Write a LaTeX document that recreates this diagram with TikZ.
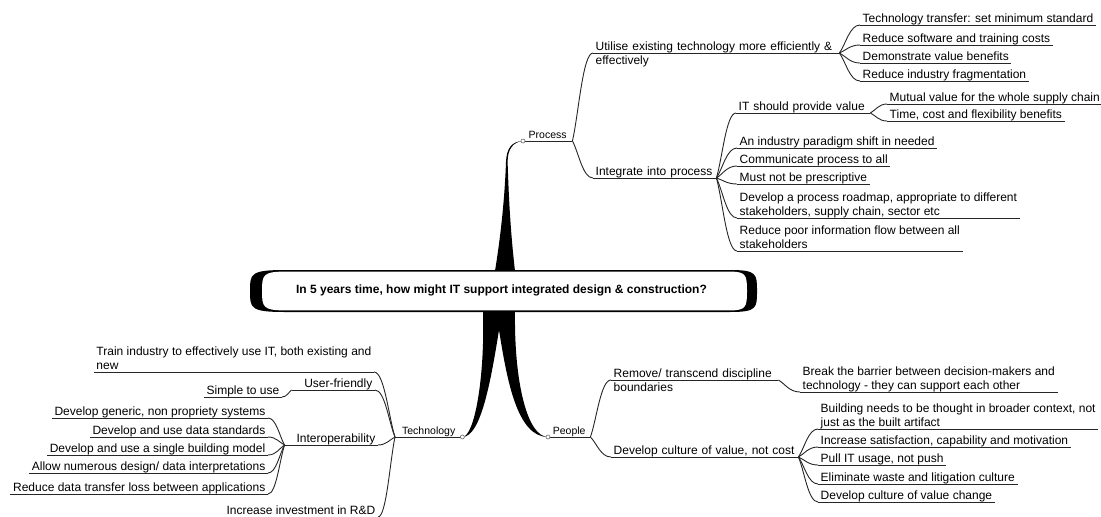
\documentclass[tikz,border=0pt]{standalone}
\usepackage{fontspec}
\setmainfont{Liberation Sans}
\usetikzlibrary{calc}
\newcommand\fsn{\fontsize{12}{14}\selectfont}
\newcommand\fss{\fontsize{10.5}{12}\selectfont}
\begin{document}
\begin{tikzpicture}[x=1pt,y=-1pt,
  ln/.style={draw=black!85, line width=0.9pt},
  ul/.style={append after command={(\tikzlastnode.south west) edge[ln] (\tikzlastnode.south east)}},
  ritem/.style={anchor=south west, align=left, inner xsep=2.5pt, inner ysep=2pt, text depth=0pt, font=\fsn, ul},
  litem/.style={anchor=south east, align=right, inner xsep=2.5pt, inner ysep=2pt, text depth=0pt, font=\fsn, ul},
  topic/.style={anchor=south west, inner xsep=0pt, inner ysep=2pt, text depth=0pt, font=\fss, ul},
  dot/.style={circle, draw=black!60, fill=white, inner sep=0pt, minimum size=4pt, line width=0.6pt},
  br/.style={ln, to path={let \p1=(\tikztostart), \p2=(\tikztotarget) in .. controls ({\x1+0.3*(\x2-\x1)},{\y1+0.3*(\y2-\y1)}) and ({\x2-0.5*(\x2-\x1)},\y2) .. (\tikztotarget)}}
]
\useasboundingbox (0,0) rectangle (1101,517);

% ---- main topics
\node[topic, minimum width=49pt] (process) at (523,141) {Process};
\node[topic, minimum width=67pt] (technology) at (395,437) {Technology};
\node[topic, minimum width=42pt] (people) at (548,437) {People};

% ---- trunks
\fill[black] (495,271) .. controls (502,228) and (505,190) .. (506,162)
  .. controls (506.5,148) and (512,141.3) .. (process.south west)
  .. controls (513,142) and (507.6,149) .. (507.6,162)
  .. controls (508.5,190) and (510,228) .. (515,271) -- cycle;
\fill[black] (483,311) .. controls (485,380) and (474,437) .. (technology.south east)
  .. controls (481,437) and (491,380) .. (499,330)
  .. controls (507,380) and (517,437) .. (people.south west)
  .. controls (528,437) and (514,385) .. (515,311) -- cycle;

% ---- central box
\fill[black] (285,270) -- (730,270) .. controls (757,270) and (757,274) .. (757,291)
  .. controls (757,308) and (757,312) .. (730,312) -- (285,312)
  .. controls (250,312) and (250,308) .. (250,291) .. controls (250,274) and (250,270) .. (285,270) -- cycle;
\fill[white] (285,271.6) -- (730,271.6) .. controls (746,271.6) and (747,275) .. (747,291)
  .. controls (747,307) and (746,310.4) .. (730,310.4) -- (285,310.4)
  .. controls (263,310.4) and (262,307) .. (262,291) .. controls (262,275) and (263,271.6) .. (285,271.6) -- cycle;
\node[anchor=base, font=\fsn\bfseries] (center) at (501.5,293) {In 5 years time, how might IT support integrated design \& construction?};

\node[dot] at (process.south west) {};
\node[dot] at (technology.south east) {};
\node[dot] at (people.south west) {};

% ---- Process
\node[ritem, text width=241pt] (P1) at (593,53) {Utilise existing technology more efficiently \&\\effectively};
\node[ritem, text width=118pt] (P2) at (593,178) {Integrate into process};
\node[ritem] (U1) at (860,25) {Technology transfer: set minimum standard};
\node[ritem] (U2) at (860,45) {Reduce software and training costs};
\node[ritem] (U3) at (860,63) {Demonstrate value benefits};
\node[ritem] (U4) at (860,81) {Reduce industry fragmentation};
\node[ritem, text width=129pt] (I1) at (736,113) {IT should provide value};
\node[ritem] (I1a) at (887,104) {Mutual value for the whole supply chain};
\node[ritem] (I1b) at (887,121) {Time, cost and flexibility benefits};
\node[ritem] (I2) at (737,148) {An industry paradigm shift in needed};
\node[ritem] (I3) at (737,166) {Communicate process to all};
\node[ritem] (I4) at (737,184) {Must not be prescriptive};
\node[ritem] (I5) at (737,218) {Develop a process roadmap, appropriate to different\\stakeholders, supply chain, sector etc};
\node[ritem] (I6) at (737,251) {Reduce poor information flow between all\\stakeholders};

\draw[br] (process.south east) to (P1.south west);
\draw[br] (process.south east) to (P2.south west);
\foreach \k in {U1,U2,U3,U4} \draw[br] (P1.south east) to (\k.south west);
\foreach \k in {I1,I2,I3,I4,I5,I6} \draw[br] (P2.south east) to (\k.south west);
\foreach \k in {I1a,I1b} \draw[br] (I1.south east) to (\k.south west);

% ---- People
\node[ritem, text width=162pt] (Pe1) at (611,380) {Remove/ transcend discipline\\boundaries};
\node[ritem] (Pe1a) at (800,392) {Break the barrier between decision-makers and\\technology - they can support each other};
\node[ritem, text width=182pt] (Pe2) at (611,457) {Develop culture of value, not cost};
\node[ritem] (Pe2a) at (818,429) {Building needs to be thought in broader context, not\\just as the built artifact};
\node[ritem] (Pe2b) at (818,447) {Increase satisfaction, capability and motivation};
\node[ritem] (Pe2c) at (818,465) {Pull IT usage, not push};
\node[ritem] (Pe2d) at (818,484) {Eliminate waste and litigation culture};
\node[ritem] (Pe2e) at (818,502) {Develop culture of value change};

\draw[br] (people.south east) to (Pe1.south west);
\draw[br] (people.south east) to (Pe2.south west);
\draw[br] (Pe1.south east) to (Pe1a.south west);
\foreach \k in {Pe2a,Pe2b,Pe2c,Pe2d,Pe2e} \draw[br] (Pe2.south east) to (\k.south west);

% ---- Technology
\node[litem, align=left] (T1) at (374,372) {Train industry to effectively use IT, both existing and\\new};
\node[litem, text width=78pt] (T2) at (375,390) {User-friendly};
\node[litem] (T2a) at (282,397) {Simple to use};
\node[litem, text width=88pt] (T3) at (378,445) {Interoperability};
\node[litem] (T3a) at (268,418) {Develop generic, non propriety systems};
\node[litem] (T3b) at (268,437) {Develop and use data standards};
\node[litem] (T3c) at (268,455) {Develop and use a single building model};
\node[litem] (T3d) at (268,473) {Allow numerous design/ data interpretations};
\node[litem] (T3e) at (268,494) {Reduce data transfer loss between applications};
\node[litem] (T4) at (378,517) {Increase investment in R\&D};

\foreach \k in {T1,T2,T3,T4} \draw[br] (technology.south west) to (\k.south east);
\draw[br] (T2.south west) to (T2a.south east);
\foreach \k in {T3a,T3b,T3c,T3d,T3e} \draw[br] (T3.south west) to (\k.south east);
\end{tikzpicture}
\end{document}
